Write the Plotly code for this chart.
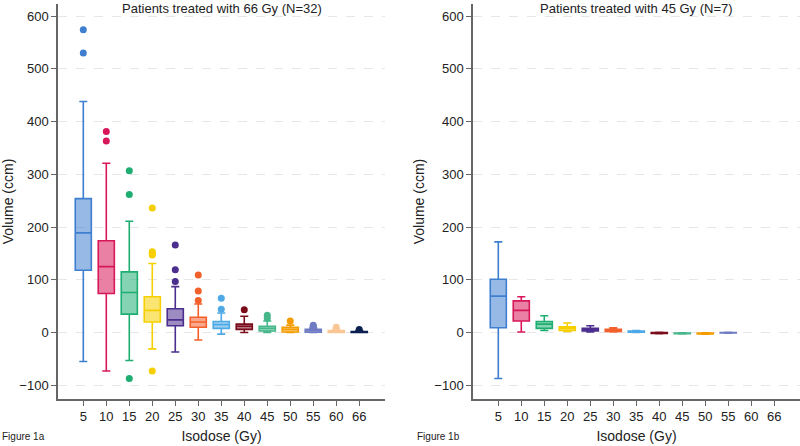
import plotly.graph_objects as go

categories = ["5", "10", "15", "20", "25", "30", "35", "40", "45", "50", "55", "60", "66"]
colors = ["#3f7fd0", "#d8175a", "#1fae72", "#f6cf00", "#4b2e8e", "#f4602c",
          "#4ea9e6", "#7a0d1c", "#45b78a", "#f59d00", "#6f7cc4", "#fbc696", "#0b1f4f"]

# Panel A: 66 Gy (N=32)
a_q1 = [118, 74, 35, 20, 13, 10, 8, 6, 3, 1, 0.5, 0, 0]
a_med = [189, 125, 76, 42, 24, 20, 15, 12, 8, 6, 4, 2, 1]
a_q3 = [254, 174, 115, 68, 45, 29, 21, 16, 12, 10, 6, 4, 2]
a_low = [-55, -73, -53, -31, -37, -14, -3, 0, 0, 0, 0, 0, 0]
a_up = [438, 321, 211, 131, 87, 54, 37, 31, 22, 14, 9, 6, 4]
a_out = [[574, 530], [381, 363], [307, 262, -87], [236, 153, 150, 147, -73],
         [166, 119, 97], [109, 79, 61], [65, 44], [43], [33, 27], [22], [14, 12], [10], [6]]

# Panel B: 45 Gy (N=7)
b_cats = ["5", "10", "15", "20", "25", "30", "35", "40", "45", "50", "55"]
b_q1 = [9, 22, 8, 4, 3, 2, 0.5, -1.5, -2, -2.5, -0.8]
b_med = [69, 42, 16, 8, 6, 4, 1.5, -1, -1.5, -2, -0.5]
b_q3 = [101, 60, 21, 11, 8, 6, 3, 0, -1, -1, 0]
b_low = [-87, 1, 4, 2, 1, 1, 0, -2, -2.5, -3, -1]
b_up = [172, 68, 32, 18, 13, 9, 4, 0.5, -0.5, -0.5, 0.3]

fig = go.Figure()


def rgba(col, a):
    return "rgba(%d,%d,%d,%s)" % (int(col[1:3], 16), int(col[3:5], 16), int(col[5:7], 16), a)


def add_panel(cats, q1, med, q3, low, up, outs, xa, ya):
    for i, c in enumerate(cats):
        col = colors[categories.index(c)]
        fig.add_trace(go.Box(
            x=[c], q1=[q1[i]], median=[med[i]], q3=[q3[i]],
            lowerfence=[low[i]], upperfence=[up[i]],
            width=0.7, whiskerwidth=0.5,
            line=dict(color=col, width=1.6), fillcolor=rgba(col, 0.55),
            boxpoints=False, xaxis=xa, yaxis=ya, showlegend=False,
        ))
        if outs is not None and outs[i]:
            fig.add_trace(go.Scatter(
                x=[c] * len(outs[i]), y=outs[i], mode="markers",
                marker=dict(color=col, size=7), xaxis=xa, yaxis=ya, showlegend=False,
            ))


add_panel(categories, a_q1, a_med, a_q3, a_low, a_up, a_out, "x", "y")
add_panel(b_cats, b_q1, b_med, b_q3, b_low, b_up, None, "x2", "y2")

font = dict(family="Liberation Sans, Arial, sans-serif", size=13, color="#222")
xcommon = dict(type="category", categoryorder="array", categoryarray=categories,
               range=[-1.1, 13.12], showline=True, linecolor="#666", linewidth=1.5,
               ticks="outside", ticklen=5, tickcolor="#666", showgrid=False,
               zeroline=False, tickfont=dict(size=13, color="#222"),
               title=dict(text="Isodose (Gy)", font=dict(size=14, color="#222"), standoff=8))
ycommon = dict(range=[-126, 623], tickvals=[-100, 0, 100, 200, 300, 400, 500, 600],
               showline=True, linecolor="#666", linewidth=1.5, ticks="outside",
               ticklen=5, tickcolor="#666", showgrid=True, gridcolor="#e6e6e6",
               griddash="dash", gridwidth=1, zeroline=False,
               tickfont=dict(size=13, color="#222"),
               title=dict(text="Volume (ccm)", font=dict(size=14, color="#222"), standoff=6))

fig.update_layout(
    width=800, height=446, paper_bgcolor="white", plot_bgcolor="white",
    margin=dict(l=0, r=0, t=4, b=47), font=font, boxmode="overlay",
    xaxis=dict(domain=[0.0725, 0.48125], anchor="y", **xcommon),
    yaxis=dict(domain=[0, 1], anchor="x", **ycommon),
    xaxis2=dict(domain=[0.59125, 1.0], anchor="y2", **xcommon),
    yaxis2=dict(domain=[0, 1], anchor="x2", **ycommon),
    annotations=[
        dict(text="Patients treated with 66 Gy (N=32)", x=0.277, y=1, xref="paper",
             yref="paper", xanchor="center", yanchor="bottom", yshift=-14,
             showarrow=False, font=dict(size=13, color="#222")),
        dict(text="Patients treated with 45 Gy (N=7)", x=0.795, y=1, xref="paper",
             yref="paper", xanchor="center", yanchor="bottom", yshift=-14,
             showarrow=False, font=dict(size=13, color="#222")),
        dict(text="Figure 1a", x=0, y=0, xref="paper", yref="paper", showarrow=False,
             xanchor="left", yanchor="top", yshift=-30, font=dict(size=10, color="#222")),
        dict(text="Figure 1b", x=0.519, y=0, xref="paper", yref="paper", showarrow=False,
             xanchor="left", yanchor="top", yshift=-30, font=dict(size=10, color="#222")),
    ],
)

fig.write_html("out.html")
